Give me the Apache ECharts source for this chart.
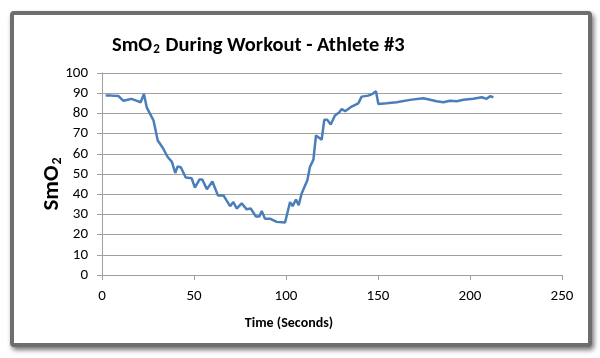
<!DOCTYPE html>
<html><head><meta charset="utf-8">
<script src="https://cdn.jsdelivr.net/npm/echarts@6/dist/echarts.min.js"></script>
<style>
html,body{margin:0;padding:0;background:#fff;}
#frame{position:absolute;left:10px;top:11px;width:574px;height:328px;border:4px solid #6e6e6e;border-radius:4px;box-shadow:2px 3px 5px rgba(0,0,0,0.55);background:#fff;}
#c{position:absolute;left:0;top:0;width:600px;height:358px;}
</style></head>
<body>
<div id="frame"></div>
<div id="c"></div>
<script>
var times = [2, 5, 9, 11.5, 14, 16, 19, 21, 22.8, 24.3, 26, 28, 30.3, 33, 35.7, 38, 39.8, 41.1, 42.9, 45.5, 48.7, 50.5, 53, 54.5, 57, 60, 63, 66, 69.6, 71.4, 73.2, 75.9, 78.6, 80.8, 83.7, 85.5, 86.8, 88.6, 91.3, 94.9, 99.5, 102.2, 103.6, 105.4, 106.9, 108.5, 111.6, 113, 114.9, 116.3, 119.4, 120.8, 122.5, 124.3, 126.6, 129, 130.3, 132.1, 135.7, 139.3, 141.1, 144.7, 147.1, 148.9, 150.2, 154.7, 160.1, 167.4, 174.6, 181.9, 185.5, 189.1, 192.8, 196.4, 201.8, 206.4, 209, 210.9, 212.7];
var smo2 = [88.8, 88.8, 88.6, 86.3, 86.8, 87.2, 86.2, 85.5, 89.6, 83, 80, 76.5, 66.6, 63, 58.4, 56, 50.5, 53.8, 53.2, 48.3, 47.9, 43.3, 47.3, 47.3, 42.5, 46.3, 39.4, 39.4, 34.1, 36.1, 32.9, 35.5, 32.5, 32.9, 28.9, 28.9, 31.7, 27.9, 27.9, 26.3, 26, 36.1, 34.1, 37.4, 34.5, 40.4, 46.9, 53.5, 57.1, 69.1, 67, 76.8, 76.8, 74.5, 79, 80.6, 82.2, 81.1, 83.4, 85, 88.3, 88.8, 89.7, 91, 84.7, 85, 85.5, 86.7, 87.5, 86, 85.5, 86.3, 86, 86.8, 87.3, 88, 87.2, 88.5, 88];
var xTicks = [0, 50, 100, 150, 200, 250];
var yTicks = [0, 10, 20, 30, 40, 50, 60, 70, 80, 90, 100];

var data = times.map(function(t, i){ return [t, smo2[i]]; });
var chart = echarts.init(document.getElementById('c'), null, {renderer:'canvas'});
var font = 'Calibri, Carlito, "Open Sans", "Liberation Sans", sans-serif';
chart.setOption({
  backgroundColor: 'transparent',
  animation: false,
  title: {
    text: '{a|SmO}{s|2}{a| During Workout - Athlete #3}',
    left: 107, top: 27,
    textStyle: {
      rich: {
        a: {fontSize: 20.5, fontWeight: 'bold', color: '#000', fontFamily: font, lineHeight: 24, verticalAlign: 'bottom'},
        s: {fontSize: 13, fontWeight: 'bold', color: '#000', fontFamily: font, lineHeight: 24, verticalAlign: 'bottom', padding: [0, 1, 0, 1]}
      }
    }
  },
  grid: {left: 102, right: 38, top: 73, bottom: 83, containLabel: false},
  xAxis: {
    type: 'value', min: xTicks[0], max: xTicks[xTicks.length-1], interval: 50,
    name: 'Time (Seconds)', nameLocation: 'middle', nameGap: 41, nameMoveOverlap: false,
    nameTextStyle: {fontSize: 14, fontWeight: 'bold', color: '#000', fontFamily: font, padding: [0, 86, 0, 0]},
    axisLine: {show: true, lineStyle: {color: '#a0a0a0', width: 1}},
    axisTick: {show: true, length: 5, lineStyle: {color: '#a0a0a0'}},
    axisLabel: {fontSize: 15, color: '#000', fontFamily: font, margin: 14},
    splitLine: {show: false}
  },
  yAxis: {
    type: 'value', min: yTicks[0], max: yTicks[yTicks.length-1], interval: 10,
    name: '{a|SmO}{s|2}', nameLocation: 'middle', nameGap: 38, nameRotate: 90, nameMoveOverlap: false,
    nameTextStyle: {
      padding: [0, 20, 0, 0],
      rich: {
        a: {fontSize: 23, fontWeight: 'bold', color: '#000', fontFamily: font, lineHeight: 28, verticalAlign: 'bottom'},
        s: {fontSize: 14, fontWeight: 'bold', color: '#000', fontFamily: font, lineHeight: 28, verticalAlign: 'bottom', padding: [0, 0, 0, 1]}
      }
    },
    axisLine: {show: true, lineStyle: {color: '#a0a0a0', width: 1}},
    axisTick: {show: true, length: 5, lineStyle: {color: '#a0a0a0'}},
    axisLabel: {fontSize: 15, color: '#000', fontFamily: font, margin: 14},
    splitLine: {show: true, lineStyle: {color: '#a0a0a0', width: 1}}
  },
  series: [{
    type: 'line', data: data, showSymbol: false, smooth: false,
    lineStyle: {color: '#4a7ebb', width: 2.5},
    itemStyle: {color: '#4a7ebb'}
  }]
});
</script>
</body></html>
